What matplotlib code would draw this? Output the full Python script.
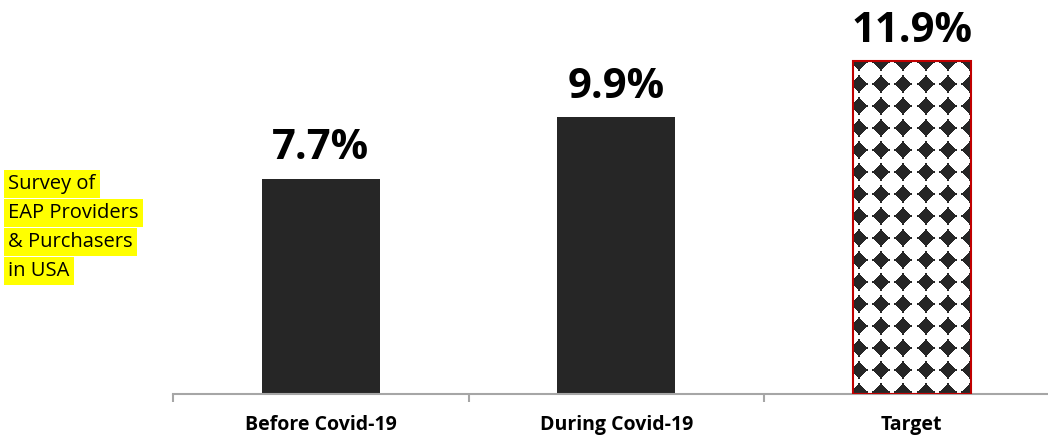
import numpy as np
import matplotlib.pyplot as plt

categories = ['Before Covid-19', 'During Covid-19', 'Target']
rates = [7.7, 9.9, 11.9]
rate_labels = ['7.7%', '9.9%', '11.9%']
note_lines = ['Survey of', 'EAP Providers', '& Purchasers', 'in USA']

plt.rcParams['font.family'] = ['Open Sans', 'DejaVu Sans']

fig = plt.figure(figsize=(10.48, 4.41), dpi=100)
ax = fig.add_axes([0.1651, 0.1066, 0.8459, 0.887])

x = np.arange(len(categories))
bars = ax.bar(x[:2], rates[:2], width=0.4, color='#262626', zorder=2)
target = ax.bar(x[2], rates[2], width=0.4, facecolor='none',
                edgecolor='#c00000', linewidth=1.5, zorder=3)[0]

# diamond fill for the target bar: stepped diamonds with short tips
period = 22
px = np.arange(118)
py = np.arange(333)
u = np.abs(((px[None, :] - 6 + period / 2) % period) - period / 2 + 0.5)
v = np.abs(((py[:, None] - 1 + period / 2) % period) - period / 2 + 0.5)
dark = ((u + v < 8.5) | ((u < 1) & (v < 9.5)) | ((v < 1) & (u < 9.5)))
pattern = np.where(dark, 0.15, 1.0)
bx, by = target.get_x(), target.get_y()
img = ax.imshow(pattern, cmap='gray', vmin=0, vmax=1, interpolation='nearest',
                extent=[bx, bx + target.get_width(), by, by + target.get_height()],
                aspect='auto', zorder=2.5)
img.set_clip_path(target)

ax.set_xlim(-0.5, 2.5)
ax.set_ylim(0, 14)
ax.set_aspect('auto')

for xi, val, lab in zip(x, rates, rate_labels):
    ax.annotate(lab, (xi, val), xytext=(0, 7), textcoords='offset points',
                ha='center', va='bottom', fontsize=30, fontweight='bold',
                color='black')

for s in ['top', 'right', 'left']:
    ax.spines[s].set_visible(False)
ax.spines['bottom'].set_color('#a6a6a6')
ax.spines['bottom'].set_linewidth(1.5)
ax.set_yticks([])

ax.set_xticks(x)
ax.set_xticklabels(categories, fontsize=14, fontweight='bold')
ax.tick_params(axis='x', length=0, pad=15)
ax.set_xticks([-0.5, 0.5, 1.5, 2.5], minor=True)
ax.tick_params(axis='x', which='minor', length=6, width=1.5, color='#a6a6a6',
               direction='out')

for i, line in enumerate(note_lines):
    fig.text(0.008, 1 - (184 + i * 29) / 441, line, fontsize=14.5, va='center',
             ha='left', color='black',
             bbox=dict(boxstyle='square,pad=0.2', facecolor='#ffff00',
                       edgecolor='none'))

fig.savefig('out.png', dpi=100)
